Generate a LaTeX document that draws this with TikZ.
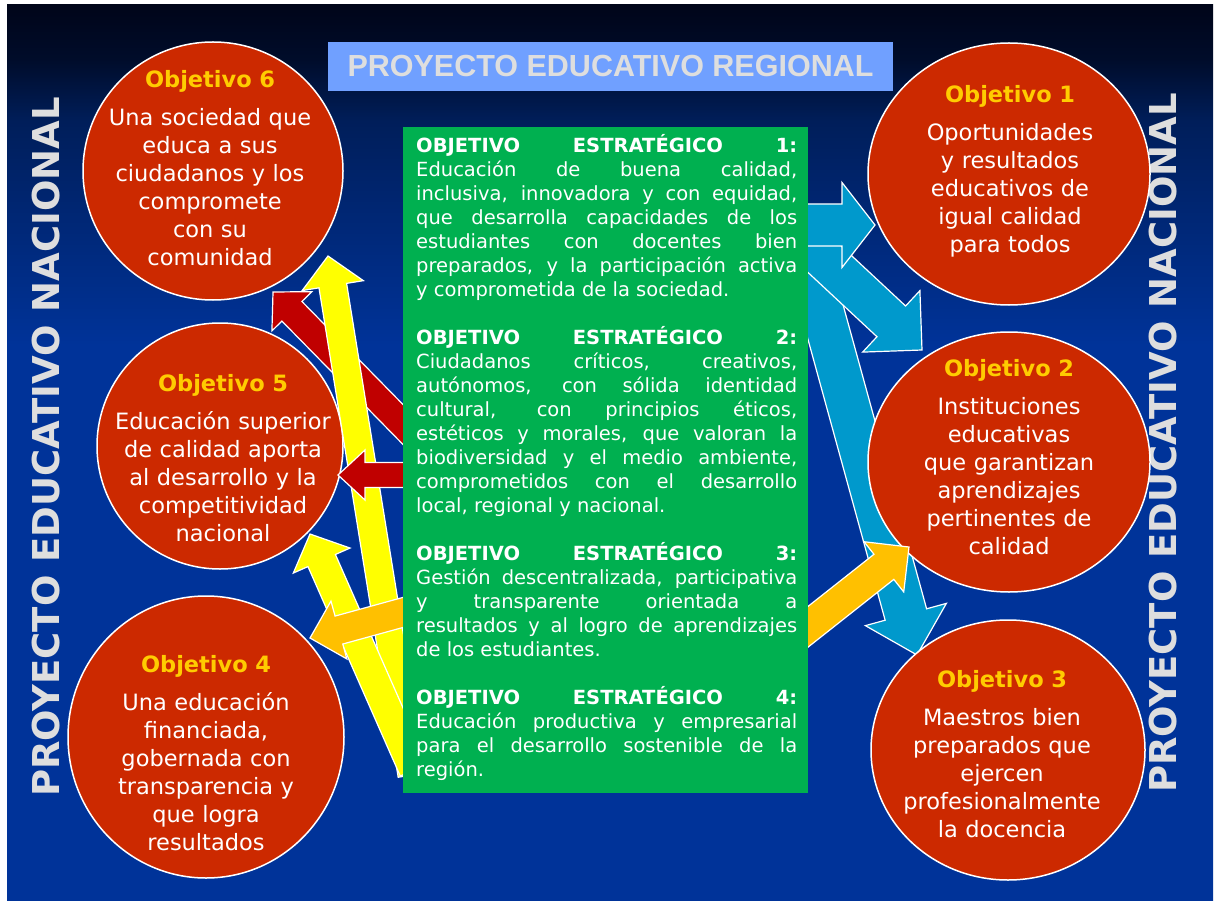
\documentclass[tikz,border=0pt]{standalone}
\usepackage{fontspec}
\setmainfont{DejaVu Sans}
\newfontfamily\titulofont{Liberation Sans}
\usetikzlibrary{calc,shapes.geometric}
\definecolor{fondoarriba}{RGB}{0,5,25}
\definecolor{fondoalto}{RGB}{0,12,42}
\definecolor{fondomedio}{RGB}{0,30,90}
\definecolor{fondoabajo}{RGB}{0,51,153}
\definecolor{rojocirculo}{RGB}{204,41,0}
\definecolor{dorado}{RGB}{255,204,0}
\definecolor{verdecaja}{RGB}{0,176,80}
\definecolor{celeste}{RGB}{0,153,204}
\definecolor{naranja}{RGB}{255,192,0}
\definecolor{rojoflecha}{RGB}{192,0,0}
\definecolor{amarillo}{RGB}{255,255,0}
\definecolor{azultitulo}{RGB}{112,160,255}
\definecolor{grisclaro}{RGB}{222,222,222}
\pgfdeclareverticalshading{fondo}{100bp}{color(0bp)=(fondoabajo); color(56bp)=(fondoabajo); color(68.5bp)=(fondomedio); color(72bp)=(fondoalto); color(75bp)=(fondoarriba); color(100bp)=(fondoarriba)}
% estilo, cola, punta, medio ancho, medio ancho punta, largo punta
\newcommand{\flecha}[6]{%
  \coordinate (cuello) at ($(#3)!#6!(#2)$);
  \draw[#1] ($(#2)!#4!90:(#3)$) -- ($(cuello)!#4!90:(#3)$) -- ($(cuello)!#5!90:(#3)$)
    -- (#3) -- ($(cuello)!#5!-90:(#3)$) -- ($(cuello)!#4!-90:(#3)$) -- ($(#2)!#4!-90:(#3)$) -- cycle;}
\begin{document}
\begin{tikzpicture}[x=1pt,y=-1pt]
\tikzstyle{objetivo} = [ellipse,draw=white,line width=1.5pt,fill=rojocirculo,inner sep=0pt]
\tikzstyle{objtexto} = [text=white,align=center,text width=260pt,inner sep=0pt,anchor=base,font=\fontsize{22.5}{28}\selectfont]
\tikzstyle{nacional} = [text=grisclaro,rotate=90,inner sep=0pt,font=\fontsize{37}{44}\selectfont\bfseries]
\tikzstyle{bloque} = [draw=white,line width=1.2pt]
	\fill[white] (0,0) rectangle (1215,901);
	\shade[shading=fondo] (7,5) rectangle (1213,901);
	\useasboundingbox (0,0) rectangle (1215,901);
	\node[nacional] (nacional1) at (46,447) {PROYECTO EDUCATIVO NACIONAL};
	\node[nacional] (nacional2) at (1163,443) {PROYECTO EDUCATIVO NACIONAL};
	\node[fill=azultitulo,minimum width=565pt,minimum height=49pt,inner sep=0pt,text=grisclaro,
	  font=\titulofont\bfseries\fontsize{30.5}{36}\selectfont] (titulo) at (610.5,66.5) {PROYECTO EDUCATIVO REGIONAL};
	% flechas azules
	\coordinate (cola1) at (780,225);  \coordinate (punta1) at (875,225);
	\coordinate (cola2) at (790,227);  \coordinate (punta2) at (922,350);
	\coordinate (cola3) at (798,222);  \coordinate (punta3) at (917,655);
	\flecha{fill=celeste,bloque}{cola3}{punta3}{21.5pt}{42pt}{42pt}
	\flecha{fill=celeste,bloque}{cola2}{punta2}{21pt}{42pt}{42pt}
	\flecha{fill=celeste,bloque}{cola1}{punta1}{21pt}{42.5pt}{33pt}
	% objetivos
	\node[objetivo,minimum width=260pt,minimum height=258pt] (obj6) at (213,171) {};
	\node[objetivo,minimum width=246pt,minimum height=246pt] (obj5) at (220,446) {};
	\node[objetivo,minimum width=276pt,minimum height=282pt] (obj4) at (206,737) {};
	\node[objetivo,minimum width=282pt,minimum height=262pt] (obj1) at (1009,174) {};
	\node[objetivo,minimum width=282pt,minimum height=260pt] (obj2) at (1009,462) {};
	\node[objetivo,minimum width=274pt,minimum height=260pt] (obj3) at (1008,750) {};
	\node[objtexto] (texto6) at (210,88) {\textcolor{dorado}{\bfseries Objetivo 6}\\[10pt]Una sociedad que\\educa a sus\\ciudadanos y los\\compromete\\con su\\comunidad};
	\node[objtexto] (texto5) at (223,391) {\textcolor{dorado}{\bfseries Objetivo 5}\\[10pt]Educación superior\\de calidad aporta\\al desarrollo y la\\competitividad\\nacional};
	\node[objtexto] (texto4) at (206,672) {\textcolor{dorado}{\bfseries Objetivo 4}\\[10pt]Una educación\\financiada,\\gobernada con\\transparencia y\\que logra\\resultados};
	\node[objtexto] (texto1) at (1010,103) {\textcolor{dorado}{\bfseries Objetivo 1}\\[10pt]Oportunidades\\y resultados\\educativos de\\igual calidad\\para todos};
	\node[objtexto] (texto2) at (1009,376) {\textcolor{dorado}{\bfseries Objetivo 2}\\[10pt]Instituciones\\educativas\\que garantizan\\aprendizajes\\pertinentes de\\calidad};
	\node[objtexto] (texto3) at (1002,687) {\textcolor{dorado}{\bfseries Objetivo 3}\\[10pt]Maestros bien\\preparados que\\ejercen\\profesionalmente\\la docencia};
	% flechas de la izquierda
	\coordinate (cola6) at (430,452);  \coordinate (punta6) at (273,292);
	\coordinate (cola5) at (430,475);  \coordinate (punta5) at (338,475);
	\coordinate (cola6b) at (412,775); \coordinate (punta6b) at (328,256);
	\coordinate (cola5b) at (414,770); \coordinate (punta5b) at (310,534);
	\coordinate (cola4) at (430,605);  \coordinate (punta4) at (310,638);
	\coordinate (cola2b) at (790,641); \coordinate (punta2b) at (909,547);
	\flecha{fill=rojoflecha,bloque}{cola6}{punta6}{14pt}{28pt}{27pt}
	\flecha{fill=amarillo,bloque}{cola6b}{punta6b}{14pt}{31pt}{30pt}
	\flecha{fill=amarillo,bloque}{cola5b}{punta5b}{15pt}{31pt}{29pt}
	\flecha{fill=rojoflecha,bloque}{cola5}{punta5}{12.5pt}{25pt}{27pt}
	\flecha{fill=naranja,bloque}{cola4}{punta4}{14.5pt}{30pt}{30pt}
	\flecha{fill=naranja,bloque}{cola2b}{punta2b}{16pt}{32pt}{32pt}
	% caja central
	\node[fill=verdecaja,minimum width=405pt,minimum height=666pt,inner sep=0pt,anchor=north west] (estr) at (403,127) {};
	\node[text=white,text width=381pt,align=justify,inner sep=0pt,anchor=base west,font=\fontsize{19.5}{24}\selectfont] (textoestr) at (416,153) {%
	\textbf{OBJETIVO\hfill ESTRATÉGICO\hfill 1:}\\
	Educación de buena calidad,\linebreak inclusiva, innovadora y con equidad,\linebreak que desarrolla capacidades de los\linebreak estudiantes con docentes bien\linebreak preparados, y la participación activa\linebreak y comprometida de la sociedad.\par\vspace{24pt}
	\textbf{OBJETIVO\hfill ESTRATÉGICO\hfill 2:}\\
	Ciudadanos críticos, creativos,\linebreak autónomos, con sólida identidad\linebreak cultural, con principios éticos,\linebreak estéticos y morales, que valoran la\linebreak biodiversidad y el medio ambiente,\linebreak comprometidos con el desarrollo\linebreak local, regional y nacional.\par\vspace{24pt}
	\textbf{OBJETIVO\hfill ESTRATÉGICO\hfill 3:}\\
	Gestión descentralizada, participativa\linebreak y transparente orientada a\linebreak resultados y al logro de aprendizajes\linebreak de los estudiantes.\par\vspace{24pt}
	\textbf{OBJETIVO\hfill ESTRATÉGICO\hfill 4:}\\
	Educación productiva y empresarial\linebreak para el desarrollo sostenible de la\linebreak región.};
\end{tikzpicture}
\end{document}
